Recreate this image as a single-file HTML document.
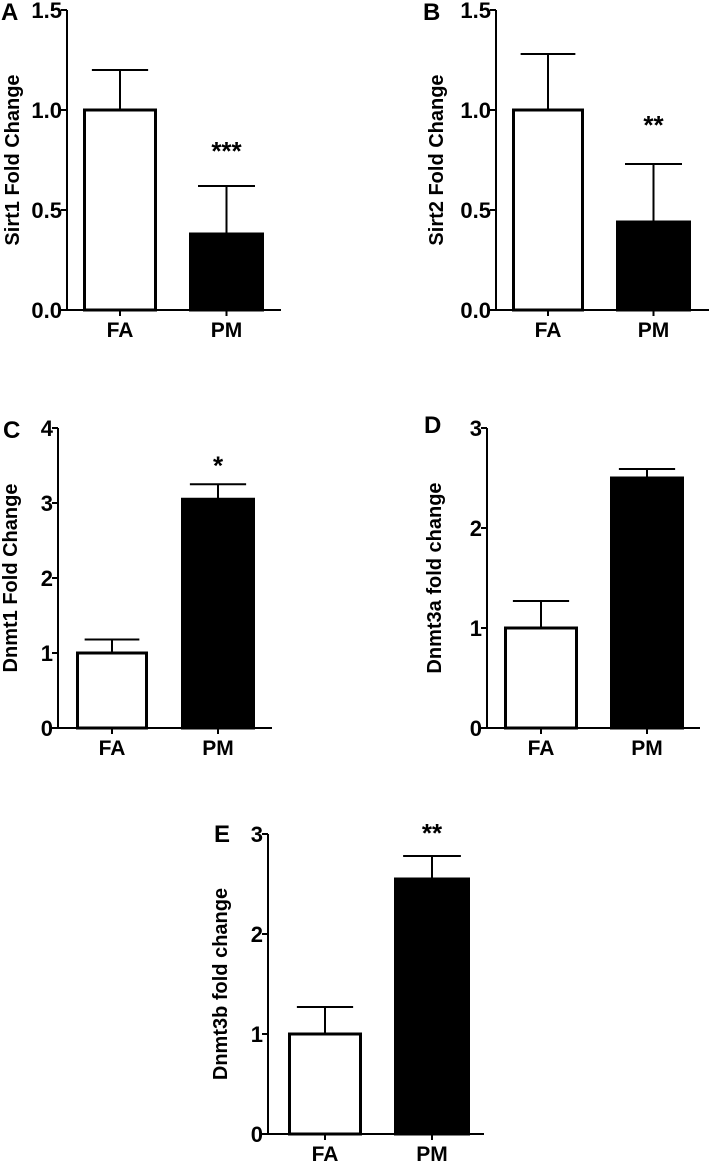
<!DOCTYPE html>
<html><head><meta charset="utf-8"><style>
html,body{margin:0;padding:0;background:#fff;}
svg text{font-family:"Liberation Sans",Arial,sans-serif;font-weight:bold;fill:#000;}
</style></head><body>
<svg id="fig" width="709" height="1163" viewBox="0 0 709 1163" xmlns="http://www.w3.org/2000/svg"></svg>
<script>
// Data arrays (top level)
const categories = ["FA","PM"];
const sirt1Means = [1.0, 0.38];
const sirt1Errs = [1.2, 0.62];
const sirt2Means = [1.0, 0.44];
const sirt2Errs = [1.28, 0.73];
const dnmt1Means = [1.0, 3.05];
const dnmt1Errs = [1.18, 3.25];
const dnmt3aMeans = [1.0, 2.5];
const dnmt3aErrs = [1.27, 2.59];
const dnmt3bMeans = [1.0, 2.55];
const dnmt3bErrs = [1.27, 2.78];
const ticksDec = ["0.0","0.5","1.0","1.5"];
const ticksDecVals = [0,0.5,1.0,1.5];
const ticks4 = ["0","1","2","3","4"];
const ticks4Vals = [0,1,2,3,4];
const ticks3 = ["0","1","2","3"];
const ticks3Vals = [0,1,2,3];
const starsA = ["","***"];
const starsB = ["","**"];
const starsC = ["","*"];
const starsD = ["",""];
const starsE = ["","**"];

const NS="http://www.w3.org/2000/svg";
const svg=document.getElementById('fig');
function mk(tag,attrs,parent,txt){
  const e=document.createElementNS(NS,tag);
  for(const k in attrs)e.setAttribute(k,attrs[k]);
  if(txt!==undefined)e.textContent=txt;
  (parent||svg).appendChild(e);return e;
}
function panel(cfg){
  const g=mk('g',{});
  
  
  const yScale=v=>cfg.y0-(v-0)/(cfg.max)*(cfg.y0-cfg.yTop);
  const ya=mk('line',{x1:cfg.ax,y1:cfg.yTop,x2:cfg.ax,y2:cfg.y0,stroke:'#000','stroke-width':2},g);
  
  
  const xa=mk('line',{x1:cfg.ax-6,y1:cfg.y0,x2:cfg.axEnd,y2:cfg.y0,stroke:'#000','stroke-width':2},g);
  
  
  cfg.tickVals.forEach((v,i)=>{
    const y=yScale(v);
    mk('line',{x1:cfg.ax-6,y1:y,x2:cfg.ax,y2:y,stroke:'#000','stroke-width':2},g);
    const t=mk('text',{x:cfg.ax-5,y:y+8,'text-anchor':'end','font-size':22},g,cfg.ticks[i]);
    
    
  });
  categories.forEach((c,i)=>{
    const x1=cfg.bars[i][0],x2=cfg.bars[i][1],cx=(x1+x2)/2;
    const ym=yScale(cfg.means[i]),ye=yScale(cfg.errs[i]);
    const ew=(x2-x1)*0.38;
    const eb=mk('path',{d:`M${cx},${ym} L${cx},${ye} M${cx-ew},${ye} L${cx+ew},${ye}`,stroke:'#000','stroke-width':2,fill:'none'},g);
    
    
    const r=mk('rect',{x:x1+1.5,y:ym,width:x2-x1-3,height:cfg.y0-ym,fill:i===0?'#fff':'#000',stroke:'#000','stroke-width':3},g);
    
    
    mk('line',{x1:cx,y1:cfg.y0,x2:cx,y2:cfg.y0+6,stroke:'#000','stroke-width':2},g);
    const xl=mk('text',{x:cx,y:cfg.y0+27,'text-anchor':'middle','font-size':21},g,c);
    
    
    if(cfg.stars[i]){
      const s=mk('text',{x:cx,y:ye-cfg.starGap,'text-anchor':'middle','font-size':26},g,cfg.stars[i]);
      
      
    }
  });
  const ty=(cfg.yTop+cfg.y0)/2;
  const tt=mk('text',{x:cfg.titleX,y:ty,'text-anchor':'middle','font-size':20,transform:`rotate(-90 ${cfg.titleX} ${ty})`},g,cfg.title);
  
  
  const pl=mk('text',{x:cfg.lx,y:cfg.ly,'font-size':24},g,cfg.letter);
  
  
}
panel({letter:'A',title:'Sirt1 Fold Change',ax:67,yTop:10,y0:310,max:1.5,axEnd:281,bars:[[83,157],[189,264]],means:sirt1Means,errs:sirt1Errs,ticks:ticksDec,tickVals:ticksDecVals,stars:starsA,starGap:26,titleX:19,lx:1,ly:20});
panel({letter:'B',title:'Sirt2 Fold Change',ax:496,yTop:10,y0:310,max:1.5,axEnd:709,bars:[[512,584],[616,691]],means:sirt2Means,errs:sirt2Errs,ticks:ticksDec,tickVals:ticksDecVals,stars:starsB,starGap:30,titleX:443,lx:423,ly:20});
panel({letter:'C',title:'Dnmt1 Fold Change',ax:58,yTop:428,y0:728,max:4,axEnd:272,bars:[[76,148],[181,255]],means:dnmt1Means,errs:dnmt1Errs,ticks:ticks4,tickVals:ticks4Vals,stars:starsC,starGap:10,titleX:17,lx:3,ly:438});
panel({letter:'D',title:'Dnmt3a fold change',ax:487,yTop:428,y0:728,max:3,axEnd:700,bars:[[504,578],[610,684]],means:dnmt3aMeans,errs:dnmt3aErrs,ticks:ticks3,tickVals:ticks3Vals,stars:starsD,starGap:10,titleX:441,lx:424,ly:433});
panel({letter:'E',title:'Dnmt3b fold change',ax:268,yTop:834,y0:1134,max:3,axEnd:484,bars:[[288,362],[394,470]],means:dnmt3bMeans,errs:dnmt3bErrs,ticks:ticks3,tickVals:ticks3Vals,stars:starsE,starGap:14,titleX:227,lx:214,ly:842});
</script>
</body></html>
